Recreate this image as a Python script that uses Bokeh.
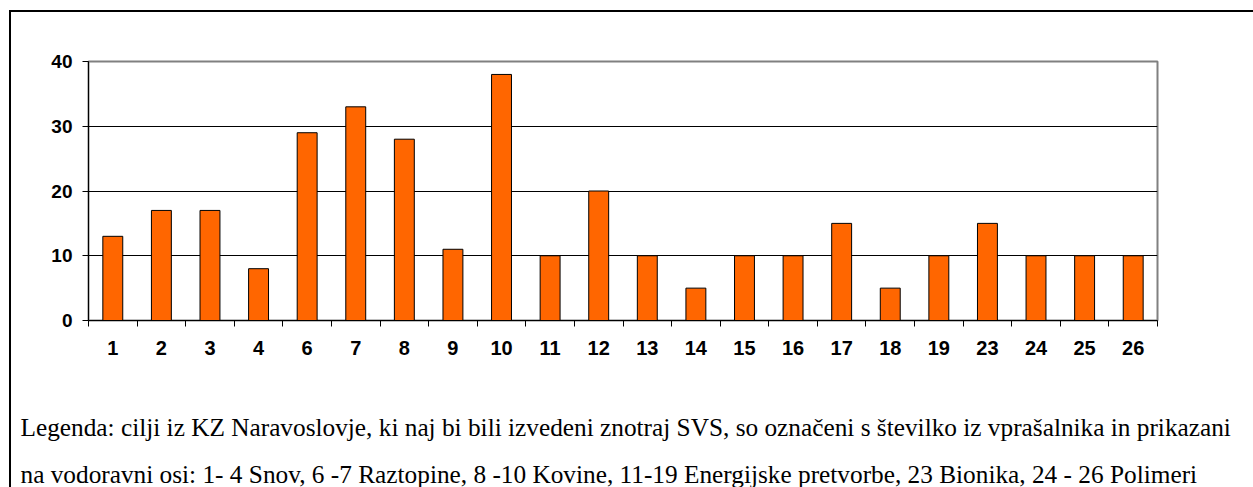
from bokeh.plotting import figure
from bokeh.models import FixedTicker, ColumnDataSource, Range1d, Title
from bokeh.embed import file_html
from bokeh.resources import INLINE

categories = ["1", "2", "3", "4", "6", "7", "8", "9", "10", "11", "12", "13",
              "14", "15", "16", "17", "18", "19", "23", "24", "25", "26"]
values = [13, 17, 17, 8, 29, 33, 28, 11, 38, 10, 20, 10,
          5, 10, 10, 15, 5, 10, 15, 10, 10, 10]
y_ticks = [0, 10, 20, 30, 40]
legend_lines = [
    "Legenda: cilji iz KZ Naravoslovje, ki naj bi bili izvedeni znotraj SVS, so označeni s številko iz vprašalnika in prikazani",
    "na vodoravni osi: 1- 4 Snov, 6 -7 Raztopine, 8 -10 Kovine, 11-19 Energijske pretvorbe, 23 Bionika, 24 - 26 Polimeri",
]

n = len(categories)
xs = [i + 0.5 for i in range(n)]
src = ColumnDataSource(dict(x=xs, top=values))

p = figure(frame_width=1069, frame_height=259, output_backend="svg", toolbar_location=None,
           x_range=Range1d(0, n), y_range=Range1d(0, 40),
           min_border_left=77, min_border_right=96, min_border_top=49, min_border_bottom=0,
           background_fill_color="white", border_fill_color="white")
p.styles = {"margin-left": "9px", "margin-top": "10px",
            "border-left": "2px solid black", "border-top": "2px solid black",
            "border-right": "none", "border-bottom": "none"}

p.outline_line_color = "#808080"
p.outline_line_width = 2

p.vbar(x="x", top="top", width=0.41, bottom=0, source=src,
       fill_color="#FF6600", line_color="black", line_width=1)

# y axis
p.yaxis.ticker = FixedTicker(ticks=y_ticks)
p.yaxis.axis_line_color = "black"
p.yaxis.major_tick_line_color = "black"
p.yaxis.major_tick_out = 6
p.yaxis.major_tick_in = 0
p.yaxis.minor_tick_line_color = None
p.yaxis.major_label_standoff = 10
p.yaxis.major_label_text_font = "Arial"
p.yaxis.major_label_text_font_style = "bold"
p.yaxis.major_label_text_font_size = "19px"
p.yaxis.major_label_text_color = "black"

# x axis
p.xaxis.ticker = FixedTicker(ticks=xs, minor_ticks=list(range(n + 1)))
p.xaxis.major_label_overrides = {x: c for x, c in zip(xs, categories)}
p.xaxis.axis_line_color = "black"
p.xaxis.major_tick_line_color = None
p.xaxis.minor_tick_line_color = "black"
p.xaxis.minor_tick_out = 6
p.xaxis.minor_tick_in = 0
p.xaxis.major_label_standoff = 14
p.xaxis.major_label_text_font = "Arial"
p.xaxis.major_label_text_font_style = "bold"
p.xaxis.major_label_text_font_size = "20px"
p.xaxis.major_label_text_color = "black"

p.xgrid.grid_line_color = None
p.ygrid.ticker = FixedTicker(ticks=[10, 20, 30])
p.ygrid.grid_line_color = "black"
p.ygrid.grid_line_width = 1

p.add_layout(Title(text="\n".join(legend_lines), align="left", offset=-68, standoff=106,
                   text_font="Times New Roman", text_font_size="25.3px",
                   text_line_height=1.7,
                   text_font_style="normal", text_color="black"), "below")

open("out.html", "w").write(file_html(p, INLINE))
